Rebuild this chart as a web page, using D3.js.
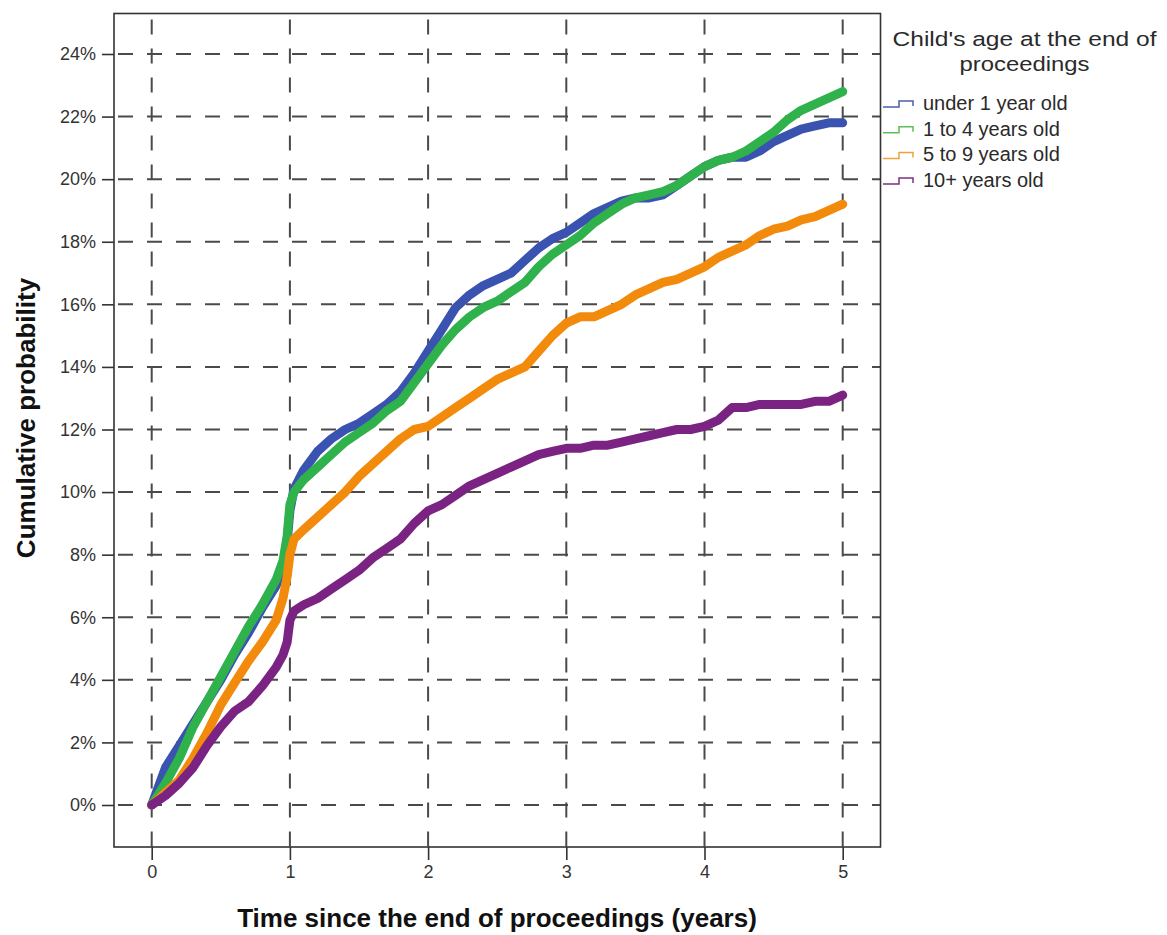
<!DOCTYPE html>
<html>
<head>
<meta charset="utf-8">
<script src="https://cdn.jsdelivr.net/npm/d3@7"></script>
<style>
html,body{margin:0;padding:0;background:#fff;}
svg{display:block;font-family:"Liberation Sans",Arial,sans-serif;}
</style>
</head>
<body>
<svg id="chart" width="1167" height="935"></svg>
<script>
// ---- data ----
const times = [0,0.1,0.2,0.3,0.4,0.5,0.6,0.7,0.8,0.9,0.95,0.98,1.0,1.03,1.1,1.2,1.3,1.4,1.5,1.6,1.7,1.8,1.9,2.0,2.1,2.2,2.3,2.4,2.5,2.6,2.7,2.8,2.9,3.0,3.1,3.2,3.3,3.4,3.5,3.6,3.7,3.8,3.9,4.0,4.1,4.2,4.3,4.4,4.5,4.6,4.7,4.8,4.9,5.0];
const seriesNames = ["under 1 year old","1 to 4 years old","5 to 9 years old","10+ years old"];
const under1 = [0,1.2,1.9,2.6,3.3,4.0,4.8,5.5,6.3,7.0,7.6,8.4,9.4,10.1,10.7,11.3,11.7,12.0,12.2,12.5,12.8,13.2,13.8,14.5,15.2,15.9,16.3,16.6,16.8,17.0,17.4,17.8,18.1,18.3,18.6,18.9,19.1,19.3,19.4,19.4,19.5,19.8,20.1,20.4,20.6,20.7,20.7,20.9,21.2,21.4,21.6,21.7,21.8,21.8];
const age1to4 = [0,0.7,1.5,2.5,3.3,4.1,4.9,5.7,6.4,7.2,7.8,8.6,9.6,10.0,10.4,10.8,11.2,11.6,11.9,12.2,12.6,12.9,13.5,14.1,14.7,15.2,15.6,15.9,16.1,16.4,16.7,17.2,17.6,17.9,18.2,18.6,18.9,19.2,19.4,19.5,19.6,19.8,20.1,20.4,20.6,20.7,20.9,21.2,21.5,21.9,22.2,22.4,22.6,22.8];
const age5to9 = [0,0.4,0.8,1.5,2.3,3.2,3.9,4.6,5.2,5.9,6.6,7.3,8.0,8.5,8.8,9.2,9.6,10.0,10.5,10.9,11.3,11.7,12.0,12.1,12.4,12.7,13.0,13.3,13.6,13.8,14.0,14.5,15.0,15.4,15.6,15.6,15.8,16.0,16.3,16.5,16.7,16.8,17.0,17.2,17.5,17.7,17.9,18.2,18.4,18.5,18.7,18.8,19.0,19.2];
const age10plus = [0,0.3,0.7,1.2,1.9,2.5,3.0,3.3,3.8,4.4,4.8,5.2,5.9,6.2,6.4,6.6,6.9,7.2,7.5,7.9,8.2,8.5,9.0,9.4,9.6,9.9,10.2,10.4,10.6,10.8,11.0,11.2,11.3,11.4,11.4,11.5,11.5,11.6,11.7,11.8,11.9,12.0,12.0,12.1,12.3,12.7,12.7,12.8,12.8,12.8,12.8,12.9,12.9,13.1];
const xTicks = [0,1,2,3,4,5];
const yTicks = [0,2,4,6,8,10,12,14,16,18,20,22,24];
const legendTitle = ["Child's age at the end of","proceedings"];
const xTitle = "Time since the end of proceedings (years)";
const yTitle = "Cumulative probability";

const seriesValues = [under1, age1to4, age5to9, age10plus];
const lineColors = ["#3a52b0","#2fb24c","#f28a0c","#7b2383"];
const legendColors = ["#4a5ea8","#5cbf5c","#eea33a","#7e2f80"];

// ---- layout ----
const svg = d3.select("#chart");
const frame = {left:114, right:880.5, top:13.5, bottom:847};
const x = d3.scaleLinear().domain([0,5]).range([151.7,842.7]);
const y = d3.scaleLinear().domain([0,24]).range([805,54]);

// grid
const grid = svg.append("g");
grid.selectAll("line.h").data(yTicks).join("line")
  .attr("x1",frame.left).attr("x2",frame.right)
  .attr("y1",d=>y(d)).attr("y2",d=>y(d))
  .attr("stroke","#4a4a4a").attr("stroke-width",2).attr("stroke-dasharray","15,14")
  .attr("stroke-dashoffset",-4);
grid.selectAll("line.v").data(xTicks).join("line")
  .attr("x1",d=>x(d)).attr("x2",d=>x(d))
  .attr("y1",frame.top).attr("y2",frame.bottom)
  .attr("stroke","#4a4a4a").attr("stroke-width",2).attr("stroke-dasharray","15,14")
  .attr("stroke-dashoffset",-6);

// series
const line = d3.line().x((d,i)=>x(times[i])).y(d=>y(d)).curve(d3.curveLinear);
const lines = svg.append("g");
seriesValues.forEach((vals,k)=>{
  lines.append("path").datum(vals)
    .attr("d",line).attr("fill","none")
    .attr("stroke",lineColors[k]).attr("stroke-width",9)
    .attr("stroke-linejoin","round").attr("stroke-linecap","round");
});

// frame
svg.append("rect").attr("x",frame.left).attr("y",frame.top)
  .attr("width",frame.right-frame.left).attr("height",frame.bottom-frame.top)
  .attr("fill","none").attr("stroke","#333").attr("stroke-width",1.6);

// axes
const yAxis = d3.axisLeft(y).tickValues(yTicks).tickFormat(d=>d+"%").tickSize(12).tickPadding(6);
const gy = svg.append("g").attr("transform",`translate(${frame.left},0)`).call(yAxis);
gy.select(".domain").remove();
gy.selectAll(".tick line").attr("stroke","#333").attr("stroke-width",1.6);
gy.selectAll(".tick text").attr("font-size",18).attr("fill","#333")
  .attr("font-family","Liberation Sans, Arial, sans-serif");

const xAxis = d3.axisBottom(x).tickValues(xTicks).tickFormat(d3.format("d")).tickSize(13).tickPadding(5);
const gx = svg.append("g").attr("transform",`translate(0,${frame.bottom})`).call(xAxis);
gx.select(".domain").remove();
gx.selectAll(".tick line").attr("stroke","#333").attr("stroke-width",1.6);
gx.selectAll(".tick text").attr("font-size",18).attr("fill","#333")
  .attr("font-family","Liberation Sans, Arial, sans-serif");

// axis titles
svg.append("text").attr("x",497).attr("y",927).attr("text-anchor","middle")
  .attr("font-size",26).attr("font-weight","bold").attr("fill","#111").text(xTitle);
svg.append("text").attr("transform","translate(35,418) rotate(-90)").attr("text-anchor","middle")
  .attr("font-size",26).attr("font-weight","bold").attr("fill","#111").text(yTitle);

// legend
const lg = svg.append("g");
const titleWidths = [264, 130];
lg.selectAll("text.t").data(legendTitle).join("text")
  .attr("x",1024.5).attr("y",(d,i)=>46+i*24.5).attr("text-anchor","middle")
  .attr("font-size",20.5).attr("fill","#2a2a2a")
  .attr("textLength",(d,i)=>titleWidths[i]).attr("lengthAdjust","spacingAndGlyphs")
  .text(d=>d);
const items = lg.selectAll("g.item").data(seriesNames).join("g")
  .attr("transform",(d,i)=>`translate(0,${110+i*25.7})`);
items.append("path")
  .attr("d","M883,-3 H899 V-9 H913 V-4")
  .attr("fill","none").attr("stroke",(d,i)=>legendColors[i]).attr("stroke-width",1.5);
items.append("text").attr("x",923).attr("y",0)
  .attr("font-size",20).attr("fill","#2a2a2a").text(d=>d);
</script>
</body>
</html>
